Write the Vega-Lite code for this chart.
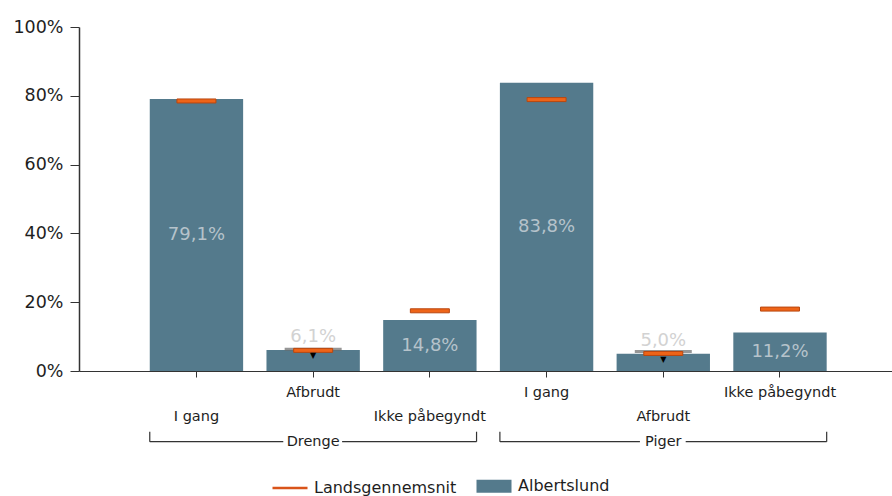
{
  "$schema": "https://vega.github.io/schema/vega-lite/v6.json",
  "width": 813,
  "height": 344,
  "autosize": {"type": "none"},
  "padding": {"left": 79, "top": 27, "right": 0, "bottom": 125},
  "config": {
    "view": {"stroke": null},
    "locale": {"number": {"decimal": ",", "thousands": ".", "grouping": [3], "currency": ["", " kr."]}},
    "font": "DejaVu Sans"
  },
  "datasets": {
    "grupper": [
      {"gruppe": "Drenge", "forste": "Drenge|I gang", "midte": "Drenge|Afbrudt", "sidste": "Drenge|Ikke påbegyndt"},
      {"gruppe": "Piger", "forste": "Piger|I gang", "midte": "Piger|Afbrudt", "sidste": "Piger|Ikke påbegyndt"}
    ]
  },
  "data": {
    "values": [
      {"gruppe": "Drenge", "kategori": "Drenge|I gang", "albertslund": 0.791, "landsgennemsnit": 0.785, "tidligere": null},
      {"gruppe": "Drenge", "kategori": "Drenge|Afbrudt", "albertslund": 0.061, "landsgennemsnit": 0.060, "tidligere": 0.063},
      {"gruppe": "Drenge", "kategori": "Drenge|Ikke påbegyndt", "albertslund": 0.148, "landsgennemsnit": 0.175, "tidligere": null},
      {"gruppe": "Piger", "kategori": "Piger|I gang", "albertslund": 0.838, "landsgennemsnit": 0.789, "tidligere": null},
      {"gruppe": "Piger", "kategori": "Piger|Afbrudt", "albertslund": 0.050, "landsgennemsnit": 0.051, "tidligere": 0.057},
      {"gruppe": "Piger", "kategori": "Piger|Ikke påbegyndt", "albertslund": 0.112, "landsgennemsnit": 0.180, "tidligere": null}
    ]
  },
  "layer": [
    {
      "layer": [
        {
          "mark": {"type": "bar"},
          "encoding": {
            "x": {
              "field": "kategori", "type": "nominal",
              "scale": {
                "domain": ["Drenge|I gang", "Drenge|Afbrudt", "Drenge|Ikke påbegyndt", "Piger|I gang", "Piger|Afbrudt", "Piger|Ikke påbegyndt"],
                "paddingInner": 0.2, "paddingOuter": 0.583, "align": 0.52
              },
              "axis": {
                "title": null, "labelAngle": 0, "labelOverlap": false, "labelBound": false,
                "labelFont": "DejaVu Sans", "labelFontSize": 14.5, "labelColor": "#1e1e1e",
                "labelLineHeight": 23.5, "labelPadding": 8.5, "labelBaseline": "top",
                "tickSize": 6, "tickColor": "#333333", "domainColor": "#333333", "domainWidth": 1.2,
                "labelExpr": "indexof(['Drenge|Afbrudt','Piger|I gang','Piger|Ikke påbegyndt'], datum.value) >= 0 ? split(datum.value, '|')[1] : ['', split(datum.value, '|')[1]]"
              }
            },
            "y": {
              "field": "albertslund", "type": "quantitative",
              "scale": {"domain": [0, 1], "nice": false},
              "axis": {
                "title": null, "values": [0, 0.2, 0.4, 0.6, 0.8, 1], "format": ".0%", "grid": false,
                "labelFont": "DejaVu Sans", "labelFontSize": 17.5, "labelColor": "#1e1e1e",
                "labelPadding": 7, "tickSize": 9, "tickColor": "#333333", "domainColor": "#333333", "domainWidth": 1.5
              }
            },
            "color": {
              "datum": "Albertslund", "type": "nominal",
              "scale": {"domain": ["Landsgennemsnit", "Albertslund"], "range": ["#ee6418", "#547a8c"]},
              "legend": {
                "title": null, "orient": "none", "direction": "horizontal",
                "legendX": 192, "legendY": 440,
                "padding": 0, "symbolSize": 1225, "symbolStrokeWidth": 2.5,
                "labelFont": "DejaVu Sans", "labelFontSize": 16, "labelColor": "#1e1e1e",
                "labelOffset": 5, "columnPadding": 14,
                "encode": {
                  "symbols": {
                    "update": {
                      "shape": {"signal": "datum.value === 'Landsgennemsnit' ? 'stroke' : 'M-1,-0.37H1V0.37H-1Z'"},
                      "fill": {"signal": "datum.value === 'Landsgennemsnit' ? 'transparent' : '#547a8c'"},
                      "stroke": {"signal": "datum.value === 'Landsgennemsnit' ? '#d9541a' : 'transparent'"},
                      "strokeWidth": {"value": 2.5},
                      "opacity": {"value": 1}
                    }
                  }
                }
              }
            }
          }
        },
        {
          "transform": [{"filter": "datum.tidligere != null"}],
          "mark": {"type": "tick", "thickness": 3, "size": 57, "color": "#6a6a6a"},
          "encoding": {
            "x": {"field": "kategori", "type": "nominal"},
            "y": {"field": "tidligere", "type": "quantitative"}
          }
        },
        {
          "mark": {"type": "tick", "thickness": 4, "size": 39, "stroke": "#b9470f", "strokeWidth": 1, "opacity": 1},
          "encoding": {
            "x": {"field": "kategori", "type": "nominal"},
            "y": {"field": "landsgennemsnit", "type": "quantitative"},
            "color": {"datum": "Landsgennemsnit", "type": "nominal"}
          }
        },
        {
          "transform": [{"filter": "datum.tidligere != null"}],
          "mark": {"type": "text", "fontSize": 8, "baseline": "top", "dy": 2, "color": "#000000"},
          "encoding": {
            "x": {"field": "kategori", "type": "nominal"},
            "y": {"field": "albertslund", "type": "quantitative"},
            "text": {"value": "▼"}
          }
        },
        {
          "transform": [{"filter": "datum.albertslund < 0.1"}],
          "mark": {"type": "text", "font": "DejaVu Sans", "fontSize": 18, "baseline": "middle", "dy": -13, "color": "#d2d2d2"},
          "encoding": {
            "x": {"field": "kategori", "type": "nominal"},
            "y": {"field": "albertslund", "type": "quantitative"},
            "text": {"field": "albertslund", "type": "quantitative", "format": ".1%"}
          }
        },
        {
          "data": {"name": "grupper"},
          "mark": {"type": "rule", "color": "#333333", "strokeWidth": 1.2},
          "encoding": {
            "x": {"field": "forste", "type": "nominal", "bandPosition": 0},
            "y": {"datum": -0.1765, "type": "quantitative"},
            "y2": {"datum": -0.2055}
          }
        },
        {
          "data": {"name": "grupper"},
          "mark": {"type": "rule", "color": "#333333", "strokeWidth": 1.2},
          "encoding": {
            "x": {"field": "sidste", "type": "nominal", "bandPosition": 1},
            "y": {"datum": -0.1765, "type": "quantitative"},
            "y2": {"datum": -0.2055}
          }
        },
        {
          "data": {"name": "grupper"},
          "transform": [{"filter": "datum.gruppe === 'Drenge'"}],
          "mark": {"type": "rule", "color": "#333333", "strokeWidth": 1.2},
          "encoding": {
            "x": {"field": "forste", "type": "nominal", "bandPosition": 0},
            "x2": {"field": "midte", "bandPosition": 0.18},
            "y": {"datum": -0.2055, "type": "quantitative"}
          }
        },
        {
          "data": {"name": "grupper"},
          "transform": [{"filter": "datum.gruppe === 'Drenge'"}],
          "mark": {"type": "rule", "color": "#333333", "strokeWidth": 1.2},
          "encoding": {
            "x": {"field": "midte", "type": "nominal", "bandPosition": 0.81},
            "x2": {"field": "sidste", "bandPosition": 1},
            "y": {"datum": -0.2055, "type": "quantitative"}
          }
        },
        {
          "data": {"name": "grupper"},
          "transform": [{"filter": "datum.gruppe === 'Piger'"}],
          "mark": {"type": "rule", "color": "#333333", "strokeWidth": 1.2},
          "encoding": {
            "x": {"field": "forste", "type": "nominal", "bandPosition": 0},
            "x2": {"field": "midte", "bandPosition": 0.25},
            "y": {"datum": -0.2055, "type": "quantitative"}
          }
        },
        {
          "data": {"name": "grupper"},
          "transform": [{"filter": "datum.gruppe === 'Piger'"}],
          "mark": {"type": "rule", "color": "#333333", "strokeWidth": 1.2},
          "encoding": {
            "x": {"field": "midte", "type": "nominal", "bandPosition": 0.74},
            "x2": {"field": "sidste", "bandPosition": 1},
            "y": {"datum": -0.2055, "type": "quantitative"}
          }
        },
        {
          "data": {"name": "grupper"},
          "mark": {"type": "text", "font": "DejaVu Sans", "fontSize": 14.5, "baseline": "middle", "color": "#1e1e1e"},
          "encoding": {
            "x": {"field": "midte", "type": "nominal"},
            "y": {"datum": -0.2055, "type": "quantitative"},
            "text": {"field": "gruppe", "type": "nominal"}
          }
        }
      ]
    },
    {
      "transform": [{"filter": "datum.albertslund >= 0.1"}],
      "mark": {"type": "text", "font": "DejaVu Sans", "fontSize": 18, "baseline": "middle", "color": "#b6c3cb"},
      "encoding": {
        "x": {"field": "kategori", "type": "nominal"},
        "y": {"field": "albertslund", "type": "quantitative", "scale": {"domain": [0, 2], "nice": false}, "axis": null},
        "text": {"field": "albertslund", "type": "quantitative", "format": ".1%"}
      }
    }
  ],
  "resolve": {"scale": {"y": "independent"}}
}
